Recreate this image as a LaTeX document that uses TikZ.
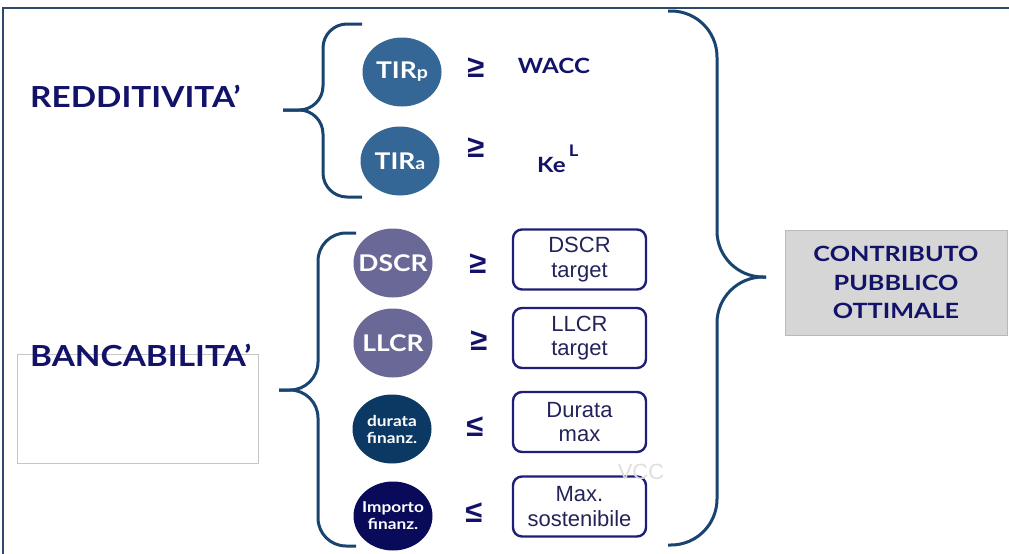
\documentclass[tikz,border=0pt]{standalone}
\usepackage{fontspec}
\setmainfont[FakeStretch=1.15]{Lato}
\newfontfamily\boxfont{Liberation Sans}
\usetikzlibrary{shapes.geometric,positioning}

\definecolor{framecol}{RGB}{45,75,105}
\definecolor{bracecol}{RGB}{25,68,112}
\definecolor{navy}{RGB}{18,18,105}
\definecolor{boxline}{RGB}{30,30,120}
\definecolor{boxtext}{RGB}{35,35,90}
\definecolor{tirblue}{RGB}{52,102,150}
\definecolor{ratiopurple}{RGB}{106,104,150}
\definecolor{duratablue}{RGB}{12,56,100}
\definecolor{importonavy}{RGB}{10,10,90}
\definecolor{contribgray}{RGB}{214,214,214}

\tikzset{
  ratio/.style={ellipse, minimum width=79pt, minimum height=69pt, inner xsep=-10pt, inner ysep=0pt,
    text=white, font=\bfseries\fontsize{23}{23}\selectfont},
  small ratio/.style={ratio, align=center, font=\bfseries\fontsize{15}{17}\selectfont},
  target/.style={draw=boxline, line width=2.4pt, rounded corners=9pt,
    minimum width=133pt, minimum height=60pt, inner sep=0pt, align=center,
    text=boxtext, font=\boxfont\fontsize{22}{24.5}\selectfont},
  sign/.style={inner sep=0pt, text=navy, font=\boxfont\bfseries\fontsize{31}{31}\selectfont},
  bracket/.style={draw=bracecol, line width=3pt},
  heading/.style={inner sep=0pt, anchor=base west, text=navy,
    font=\bfseries\fontsize{29}{29}\selectfont},
}

\begin{document}
\begin{tikzpicture}[x=1pt,y=-1pt]
\useasboundingbox (0,0) rectangle (1009,554);

% cornice
\draw[framecol, line width=2.5pt] (3,554) -- (3,8) -- (1009,8);

% titoli a sinistra
\draw[gray!45, line width=0.8pt, fill=white] (17,354) rectangle (258,463);
\node[heading] (redd) at (30,107) {REDDITIVITA’};
\node[heading] (banc) at (30,366) {BANCABILITA’};

% parentesi
\draw[bracket, rounded corners=24pt] (362,24) -- (323,24) -- (323,110) -- (283,110);
\draw[bracket, rounded corners=24pt] (283,110) -- (323,110) -- (323,197) -- (362,197);
\draw[bracket, rounded corners=28pt] (356,233) -- (318,233) -- (318,390) -- (279,390);
\draw[bracket, rounded corners=28pt] (279,390) -- (318,390) -- (318,546) -- (356,546);
\draw[bracket, rounded corners=46pt] (668,11) -- (717,11) -- (717,277) -- (766,277);
\draw[bracket, rounded corners=46pt] (766,277) -- (717,277) -- (717,545) -- (668,545);

% redditivita'
\node[ratio, fill=tirblue] (tirp) at (402,72) {TIR{\fontsize{17}{17}\selectfont p}};
\node[ratio, fill=tirblue] (tira) at (400,161) {TIR{\fontsize{17}{17}\selectfont a}};
\node[sign] (ge1) at (476,68) {≥};
\node[sign] (ge2) at (476,148) {≥};
\node[inner sep=0pt, text=navy, font=\bfseries\fontsize{21}{21}\selectfont] (wacc) at (554,66) {WACC};
\node[inner sep=0pt, anchor=base west, text=navy, font=\bfseries\fontsize{21}{21}\selectfont]
  (ke) at (537,172) {Ke\kern3pt\raisebox{16pt}{\fontsize{16}{16}\selectfont L}};

% bancabilita'
\node[ratio, fill=ratiopurple] (dscr) at (393,263) {DSCR};
\node[ratio, fill=ratiopurple] (llcr) at (393,343) {LLCR};
\node[small ratio, fill=duratablue] (durata) at (392,429) {durata\\finanz.};
\node[small ratio, fill=importonavy] (importo) at (393,516) {Importo\\finanz.};

\node[sign] (ge3) at (478,264) {≥};
\node[sign] (ge4) at (479,341) {≥};
\node[sign] (le1) at (475,427) {≤};
\node[sign] (le2) at (474,513) {≤};

\node[target] (dscrt) at (579.5,259.5) {DSCR\\target};
\node[target] (llcrt) at (579.5,338) {LLCR\\target};
\node[target] (duratamax) at (579.5,422) {Durata\\max};
\node[target] (maxsost) at (579.5,506.5) {Max.\\sostenibile};

\node[inner sep=0pt, text=gray!25, font=\boxfont\fontsize{22}{22}\selectfont] (vcc) at (641,472) {VCC};

% risultato
\node[draw=gray!55, fill=contribgray, line width=0.8pt, minimum width=222pt, minimum height=105pt,
  align=center, text=navy, font=\bfseries\addfontfeature{FakeStretch=1.2}\fontsize{21}{28.5}\selectfont]
  (contrib) at (896,282.5) {CONTRIBUTO\\PUBBLICO\\OTTIMALE};
\end{tikzpicture}
\end{document}
